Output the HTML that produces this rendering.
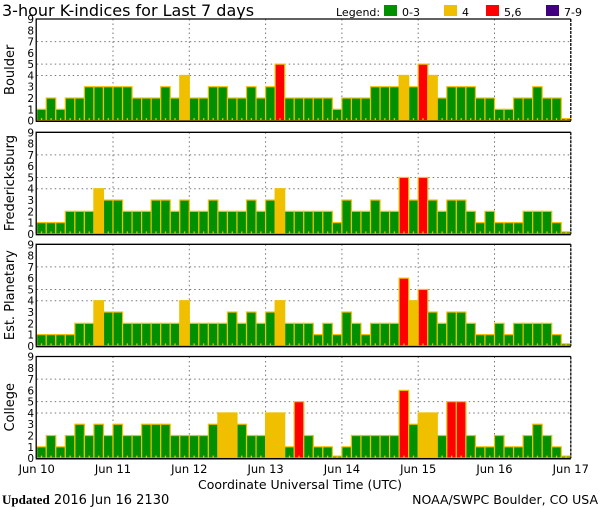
<!DOCTYPE html>
<html><head><meta charset="utf-8"><style>
html,body{margin:0;padding:0;background:#fff;}
svg{display:block;font-family:"DejaVu Sans","Liberation Sans",sans-serif;}
</style></head><body>
<svg id="chart" width="600" height="510" viewBox="0 0 600 510" xmlns="http://www.w3.org/2000/svg">
<text x="2" y="16" font-size="16" fill="#000">3-hour K-indices for Last 7 days</text>
<g font-size="11" fill="#000">
<text x="336" y="16">Legend:</text>
<rect x="384" y="5" width="13" height="11" fill="#009000"/>
<text x="402" y="16">0-3</text>
<rect x="444" y="5" width="13" height="11" fill="#f0c000"/>
<text x="462" y="16">4</text>
<rect x="486" y="5" width="13" height="11" fill="#ff0000"/>
<text x="504" y="16">5,6</text>
<rect x="546" y="5" width="13" height="11" fill="#400080"/>
<text x="564" y="16">7-9</text>
</g>
<g id="panels"></g>
<g id="xaxis"></g>
<text x="300" y="489" font-size="12.5" text-anchor="middle">Coordinate Universal Time (UTC)</text>
<text x="2" y="504" font-size="13"><tspan font-family="'Liberation Serif',serif" font-weight="bold">Updated</tspan> 2016 Jun 16 2130</text>
<text x="598" y="504" font-size="12.5" text-anchor="end">NOAA/SWPC Boulder, CO USA</text>
</svg>
<script>
const days = ["Jun 10","Jun 11","Jun 12","Jun 13","Jun 14","Jun 15","Jun 16","Jun 17"];
const stations = ["Boulder","Fredericksburg","Est. Planetary","College"];
const yTicks = [0,1,2,3,4,5,6,7,8,9];
const gridLevels = [4,5,7];
const boulder = [1,2,1,2,2,3,3,3, 3,3,2,2,2,3,2,4, 2,2,3,3,2,2,3,2, 3,5,2,2,2,2,2,1, 2,2,2,3,3,3,4,3, 5,4,2,3,3,3,2,2, 1,1,2,2,3,2,2,0];
const fredericksburg = [1,1,1,2,2,2,4,3, 3,2,2,2,3,3,2,3, 2,2,3,2,2,2,3,2, 3,4,2,2,2,2,2,1, 3,2,2,3,2,2,5,3, 5,3,2,3,3,2,1,2, 1,1,1,2,2,2,1,0];
const planetary = [1,1,1,1,2,2,4,3, 3,2,2,2,2,2,2,4, 2,2,2,2,3,2,3,2, 3,4,2,2,2,1,2,1, 3,2,1,2,2,2,6,4, 5,3,2,3,3,2,1,1, 2,1,2,2,2,2,1,0];
const college = [1,2,1,2,3,2,3,2, 3,2,2,3,3,3,2,2, 2,2,3,4,4,3,2,2, 4,4,1,5,2,1,1,0, 1,2,2,2,2,2,6,3, 4,4,2,5,5,2,1,1, 2,1,1,2,3,2,1,0];
const series = [boulder, fredericksburg, planetary, college];

const NS = "http://www.w3.org/2000/svg";
const X0 = 36.7, X1 = 570.8, PH = 101.6;
const tops = [19, 132.3, 244.3, 356.5];
const nBars = 56;
const bw = (X1 - X0) / nBars;
function xScale(i){ return X0 + i * bw; }
function yScale(v, p){ return tops[p] + PH - v * PH / 9; }
function color(v){ return v <= 3 ? "#009000" : v == 4 ? "#f0c000" : v <= 6 ? "#ff0000" : "#400080"; }
function mk(tag, attrs, parent){ const e = document.createElementNS(NS, tag); for (const k in attrs) e.setAttribute(k, attrs[k]); parent.appendChild(e); return e; }

const root = document.getElementById("panels");
series.forEach((data, p) => {
  const g = mk("g", {}, root);
  
  
  const top = tops[p], bot = top + PH;
  gridLevels.forEach(l => {
    const ln = mk("line", {x1: X0, x2: X1, y1: yScale(l,p), y2: yScale(l,p), stroke: "#777", "stroke-width": 1, "stroke-dasharray": "1.5,3"}, g);
    
    
  });
  for (let d = 1; d < 7; d++) {
    const x = xScale(d*8);
    const ln = mk("line", {x1: x, x2: x, y1: top, y2: bot, stroke: "#777", "stroke-width": 1, "stroke-dasharray": "1.5,3"}, g);
    
    
  }
  data.forEach((v, i) => {
    const x = xScale(i), y = v > 0 ? yScale(v,p) : bot - 2;
    const r = mk("rect", {x: x, y: y, width: bw, height: bot - y, fill: v > 0 ? color(v) : "#009000", stroke: "#f0c000", "stroke-width": 1.2}, g);
    
    
    const t = mk("rect", {x: x + bw/2 - 0.6, y: bot - 2.5, width: 1.3, height: 2.5, fill: "#f0c000"}, g);
    
    
  });
  const frame = mk("path", {d: `M${X0-0.5},${bot} V${top} H${X1}`, fill: "none", stroke: "#000", "stroke-width": 1.3}, g);
  
  
  const rb = mk("line", {x1: X1, x2: X1, y1: top, y2: bot, stroke: "#000", "stroke-width": 1.3, "stroke-dasharray": "3,1"}, g);
  
  
  const base = mk("line", {x1: X0 - 1, x2: X1, y1: bot + 0.7, y2: bot + 0.7, stroke: "#000", "stroke-width": 1.5}, g);
  
  
  yTicks.forEach(t => {
    const tx = mk("text", {x: 34, y: yScale(t,p) + 4, "font-size": 10.5, "text-anchor": "end", fill: "#000"}, g);
    
    
    tx.textContent = t;
  });
  const cy = top + PH/2;
  const tt = mk("text", {x: 0, y: 0, "font-size": 13, "text-anchor": "middle", transform: `translate(14,${cy}) rotate(-90)`}, g);
  
  
  tt.textContent = stations[p];
});
const xg = document.getElementById("xaxis");
days.forEach((d, i) => {
  const tx = mk("text", {x: xScale(i*8), y: 473, "font-size": 11.5, "text-anchor": "middle"}, xg);
  
  
  tx.textContent = d;
});
</script>
</body></html>
